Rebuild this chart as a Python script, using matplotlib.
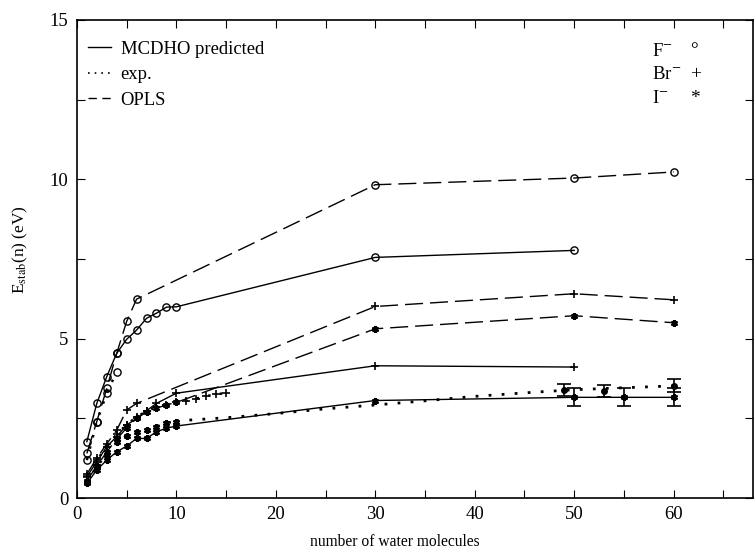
import matplotlib
matplotlib.use('Agg')
import matplotlib.pyplot as plt
from matplotlib.lines import Line2D
from matplotlib.ticker import MultipleLocator

plt.rcParams['font.family'] = ['Liberation Serif', 'DejaVu Serif']
plt.rcParams['mathtext.fontset'] = 'stix'

### data
# F- (open circles)
f_mcdho_n = [1, 2, 3, 4, 5, 6, 7, 8, 9, 10, 30, 50]
f_mcdho_e = [1.77, 2.97, 3.81, 4.54, 4.98, 5.27, 5.64, 5.80, 5.99, 6.00, 7.55, 7.77]
f_opls_n = [1, 2, 3, 4, 5, 6, 30, 50, 60]
f_opls_e = [1.40, 2.40, 3.44, 4.54, 5.54, 6.24, 9.83, 10.04, 10.23]
f_exp_n = [1, 2, 3, 4]
f_exp_e = [1.19, 2.40, 3.29, 3.97]

# Br- (plus)
br_mcdho_n = [1, 2, 3, 4, 5, 6, 7, 8, 10, 30, 50]
br_mcdho_e = [0.67, 1.14, 1.61, 1.93, 2.29, 2.50, 2.74, 2.97, 3.29, 4.15, 4.11]
br_opls_n = [1, 2, 3, 4, 5, 6, 30, 50, 60]
br_opls_e = [0.75, 1.25, 1.70, 2.13, 2.76, 2.97, 6.01, 6.41, 6.22]
br_exp_n = [1, 2, 3, 4, 5, 6, 7, 8, 9, 10, 11, 12, 13, 14, 15]
br_exp_e = [0.70, 1.20, 1.60, 2.00, 2.30, 2.55, 2.72, 2.85, 2.93, 3.00, 3.05, 3.12, 3.20, 3.25, 3.30]

# I- (asterisk)
i_mcdho_n = [1, 2, 3, 4, 5, 6, 7, 8, 9, 10, 30, 50, 55, 60]
i_mcdho_e = [0.46, 0.88, 1.19, 1.45, 1.63, 1.87, 1.87, 2.08, 2.19, 2.26, 3.06, 3.16, 3.16, 3.16]
i_mcdho_err_n = [50, 55, 60]
i_mcdho_err_e = [3.16, 3.16, 3.16]
i_mcdho_err = [0.28, 0.28, 0.28]
i_opls_n = [1, 2, 3, 4, 5, 6, 7, 8, 9, 10, 30, 50, 60]
i_opls_e = [0.55, 1.00, 1.45, 1.85, 2.20, 2.50, 2.70, 2.82, 2.92, 3.00, 5.31, 5.72, 5.50]
i_exp_n = [1, 2, 3, 4, 5, 6, 7, 8, 9, 10]
i_exp_e = [0.50, 1.00, 1.35, 1.75, 1.95, 2.08, 2.14, 2.24, 2.36, 2.40]
i_exp_fit_n = [10, 15, 20, 25, 30, 35, 40, 45, 50, 55, 60]
i_exp_fit_e = [2.42, 2.52, 2.65, 2.80, 2.92, 3.05, 3.19, 3.30, 3.40, 3.46, 3.52]
i_exp_err_n = [49, 53, 60]
i_exp_err_e = [3.39, 3.37, 3.53]
i_exp_err = [0.20, 0.19, 0.20]

fig = plt.figure(figsize=(7.54, 5.54), dpi=100)
ax = fig.add_axes([0.102, 0.101, 0.897, 0.863])

dash = (0, (13, 5))
dots = (0, (1, 3.7))
ast = (6, 2, 0)

# F-
ax.plot(f_mcdho_n, f_mcdho_e, '-', color='k', lw=1, marker='o', mfc='none', ms=5.2, mew=1)
ax.plot(f_opls_n, f_opls_e, linestyle=dash, color='k', lw=1, marker='o', mfc='none', ms=5.2, mew=1)
ax.plot(f_exp_n, f_exp_e, linestyle=dots, color='k', lw=1.8, marker='o', mfc='none', ms=5.2, mew=1)

# Br-
ax.plot(br_mcdho_n, br_mcdho_e, '-', color='k', lw=1, marker='+', ms=5.5, mew=1.2)
ax.plot(br_opls_n, br_opls_e, linestyle=dash, color='k', lw=1, marker='+', ms=5.5, mew=1.2)
ax.plot(br_exp_n, br_exp_e, linestyle=dots, color='k', lw=1.8, marker='+', ms=5.5, mew=1.2)

# I-
ax.plot(i_mcdho_n, i_mcdho_e, '-', color='k', lw=1, marker=ast, ms=5, mew=1.6)
ax.errorbar(i_mcdho_err_n, i_mcdho_err_e, yerr=i_mcdho_err, fmt='none', ecolor='k',
            elinewidth=1.2, capsize=5, capthick=1.2)
ax.plot(i_opls_n, i_opls_e, linestyle=dash, color='k', lw=1, marker=ast, ms=5, mew=1.6)
ax.plot(i_exp_n, i_exp_e, linestyle=dots, color='k', lw=1.8, marker=ast, ms=5, mew=1.6)
ax.plot(i_exp_fit_n, i_exp_fit_e, linestyle=dots, color='k', lw=2)
ax.errorbar(i_exp_err_n, i_exp_err_e, yerr=i_exp_err, fmt='o', color='k', ms=4,
            elinewidth=1.2, capsize=5, capthick=1.2)

ax.set_xlim(0, 68)
ax.set_ylim(0, 15)
ax.xaxis.set_major_locator(MultipleLocator(10))
ax.xaxis.set_minor_locator(MultipleLocator(5))
ax.yaxis.set_major_locator(MultipleLocator(5))
ax.yaxis.set_minor_locator(MultipleLocator(2.5))
ax.tick_params(which='both', direction='in', top=True, right=True, length=6, width=0.8,
               labelsize=13.5)
ax.tick_params(which='major', pad=6)
for s in ax.spines.values():
    s.set_linewidth(1.2)

ax.set_xlabel('number of water molecules', fontsize=11.2)
ax.xaxis.set_label_coords(0.47, -0.075)
ax.set_ylabel(r'E$_{\rm stab}$(n) (eV)', fontsize=12.5)
ax.yaxis.set_label_coords(-0.07, 0.52)

handles = [Line2D([], [], color='k', lw=1, linestyle='-'),
           Line2D([], [], color='k', lw=1.2, linestyle=(0, (1, 3))),
           Line2D([], [], color='k', lw=1, linestyle=(0, (6, 4)))]
ax.legend(handles, ['MCDHO predicted', 'exp.', 'OPLS'], loc='upper left',
          bbox_to_anchor=(0.0, 0.98), frameon=False, fontsize=13.4,
          handlelength=1.25, handletextpad=0.5, labelspacing=0.45, borderaxespad=0.2)

# ion / symbol key
ion_labels = [r'F$^{-}$', r'Br$^{-}$', r'I$^{-}$']
ion_symbols = ['°', '+', '*']
for k in range(3):
    yy = 0.935 - k * 0.05
    ax.text(0.851, yy, ion_labels[k], transform=ax.transAxes, fontsize=13.5, va='center')
    ax.text(0.907, yy, ion_symbols[k], transform=ax.transAxes, fontsize=14, va='center')

plt.savefig('out.png', dpi=100)
